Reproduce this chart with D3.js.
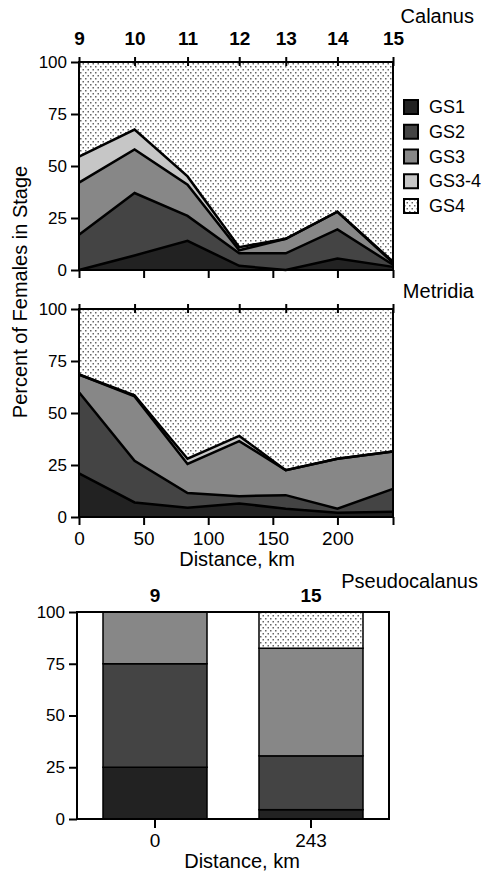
<!DOCTYPE html>
<meta charset="utf-8">
<script src="https://d3js.org/d3.v7.min.js"></script>
<style>
  body { margin: 0; background: #fff; }
  text { font-family: "Liberation Sans", Arial, sans-serif; }
</style>
<div id="chart"></div>
<script>

// stations along the transect and their distance (km)
var stations = ["9", "10", "11", "12", "13", "14", "15"];
var distance = [0, 43, 84, 124, 160, 200, 243];
var stages = ["GS1", "GS2", "GS3", "GS3-4", "GS4"];
var yTicks = [0, 25, 50, 75, 100];
var distTicks = [0, 50, 100, 150, 200, 243];

// Calanus, percent of females in each stage
var calGS1  = [0, 7, 14, 2, 0, 5.5, 1.5];
var calGS2  = [17, 30, 12, 6, 8, 14, 1];
var calGS3  = [25, 21, 15, 1.5, 7, 8.5, 1];
var calGS34 = [12.5, 9.5, 4, 1.5, 0, 0, 0.5];
var calGS4  = [45.5, 32.5, 55, 89, 85, 72, 96];

// Metridia
var metGS1  = [21, 7, 4.5, 6.5, 4, 2, 2.5];
var metGS2  = [39, 20, 7, 3.5, 6.5, 2, 11];
var metGS3  = [8.5, 31, 14, 26.5, 12, 24, 18];
var metGS34 = [0, 0.5, 2.5, 2.5, 0, 0, 0];
var metGS4  = [31.5, 41.5, 72, 61, 77.5, 72, 68.5];

// Pseudocalanus (only end stations)
var pseStations = ["9", "15"];
var pseDistance = ["0", "243"];
var pseGS1  = [25, 4.5];
var pseGS2  = [50, 26];
var pseGS3  = [25, 52];
var pseGS34 = [0, 0];
var pseGS4  = [0, 17.5];

var svg = d3.select("#chart").append("svg")
    .attr("width", 484)
    .attr("height", 873);

// dotted fill for GS4
var pat = svg.append("defs").append("pattern")
    .attr("id", "dots")
    .attr("patternUnits", "userSpaceOnUse")
    .attr("width", 5)
    .attr("height", 6);
pat.append("rect").attr("width", 5).attr("height", 6).attr("fill", "#fff");
pat.append("rect").attr("x", 0).attr("y", 0).attr("width", 1.5).attr("height", 1.5).attr("fill", "#666");
pat.append("rect").attr("x", 2.5).attr("y", 3).attr("width", 1.5).attr("height", 1.5).attr("fill", "#666");

var colors = {"GS1": "#222", "GS2": "#444", "GS3": "#878787", "GS3-4": "#c6c6c6", "GS4": "url(#dots)"};

function makeRows(keys, cols, series) {
  return keys.map(function(k, i) {
    var r = {key: k};
    stages.forEach(function(s, j) { r[s] = series[j][i]; });
    return r;
  });
}

function styleAxis(g, size, bold) {
  g.selectAll("text")
    .style("font-size", size + "px")
    .style("font-weight", bold ? "bold" : "normal")
    .attr("fill", "#000");
  g.selectAll("line").attr("stroke", "#000").attr("stroke-width", 2);
  g.select(".domain").remove();
}

var x = d3.scaleLinear().domain([0, 243]).range([79, 393]);

function areaPanel(series, yBottom, yTop, stationLabels, distLabels) {
  var y = d3.scaleLinear().domain([0, 100]).range([yBottom, yTop]);
  var rows = distance.map(function(d, i) {
    var r = {dist: d};
    stages.forEach(function(s, j) { r[s] = series[j][i]; });
    return r;
  });
  var stacked = d3.stack().keys(stages)(rows);

  var area = d3.area()
    .x(function(d) { return x(d.data.dist); })
    .y0(function(d) { return y(d[0]); })
    .y1(function(d) { return y(d[1]); });
  var line = d3.line()
    .x(function(d) { return x(d.data.dist); })
    .y(function(d) { return y(d[1]); });

  var g = svg.append("g");
  g.selectAll(".layer")
    .data(stacked)
    .enter().append("path")
      .attr("d", area)
      .attr("fill", function(d) { return colors[d.key]; });
  g.selectAll(".edge")
    .data(stacked.slice(0, 4))
    .enter().append("path")
      .attr("d", line)
      .attr("fill", "none")
      .attr("stroke", "#000")
      .attr("stroke-width", 2.5)
      .attr("stroke-linejoin", "miter");

  // frame
  g.append("rect")
    .attr("x", x(0)).attr("y", yTop)
    .attr("width", x(243) - x(0)).attr("height", yBottom - yTop)
    .attr("fill", "none").attr("stroke", "#000").attr("stroke-width", 2);

  var left = g.append("g")
    .attr("transform", "translate(" + x(0) + ",0)")
    .call(d3.axisLeft(y).tickValues(yTicks).tickSize(8).tickPadding(4).tickSizeOuter(0));
  styleAxis(left, 17, false);

  var top = g.append("g")
    .attr("transform", "translate(0," + yTop + ")")
    .call(d3.axisTop(x).tickValues(distance).tickSize(5).tickPadding(12).tickSizeOuter(0)
      .tickFormat(function(d, i) { return stationLabels ? stations[i] : ""; }));
  styleAxis(top, 19, true);
  top.selectAll("line").attr("y1", 4);

  var bottom = g.append("g")
    .attr("transform", "translate(0," + yBottom + ")")
    .call(d3.axisBottom(x).tickValues(distTicks).tickSize(8).tickPadding(7).tickSizeOuter(0)
      .tickFormat(function(d) { return distLabels && d !== 243 ? d : ""; }));
  styleAxis(bottom, 19, false);
}

areaPanel([calGS1, calGS2, calGS3, calGS34, calGS4], 270, 62, true, false);
areaPanel([metGS1, metGS2, metGS3, metGS34, metGS4], 517, 309, false, true);

// Pseudocalanus bars
var yb = d3.scaleLinear().domain([0, 100]).range([819, 612]);
var xb = d3.scaleBand().domain(pseDistance).range([77, 389]).paddingInner(1 / 3).paddingOuter(1 / 6);
var pseRows = pseDistance.map(function(d, i) {
  var r = {dist: d};
  var series = [pseGS1, pseGS2, pseGS3, pseGS34, pseGS4];
  stages.forEach(function(s, j) { r[s] = series[j][i]; });
  return r;
});
var pseStack = d3.stack().keys(stages)(pseRows);

var gb = svg.append("g");
gb.selectAll(".layer")
  .data(pseStack)
  .enter().append("g")
    .attr("fill", function(d) { return colors[d.key]; })
  .selectAll("rect")
  .data(function(d) { return d.filter(function(v) { return v[1] > v[0]; }); })
  .enter().append("rect")
    .attr("x", function(d) { return xb(d.data.dist); })
    .attr("y", function(d) { return yb(d[1]); })
    .attr("width", xb.bandwidth())
    .attr("height", function(d) { return yb(d[0]) - yb(d[1]); })
    .attr("stroke", "#000")
    .attr("stroke-width", 1.5);

gb.append("rect")
  .attr("x", 77).attr("y", 612)
  .attr("width", 389 - 77).attr("height", 819 - 612)
  .attr("fill", "none").attr("stroke", "#000").attr("stroke-width", 2);

var bl = gb.append("g")
  .attr("transform", "translate(77,0)")
  .call(d3.axisLeft(yb).tickValues(yTicks).tickSize(8).tickPadding(4).tickSizeOuter(0));
styleAxis(bl, 17, false);

var bt = gb.append("g")
  .attr("transform", "translate(0,612)")
  .call(d3.axisTop(xb).tickSize(0).tickPadding(10).tickSizeOuter(0)
    .tickFormat(function(d, i) { return pseStations[i]; }));
styleAxis(bt, 19, true);

var bb = gb.append("g")
  .attr("transform", "translate(0,819)")
  .call(d3.axisBottom(xb).tickSize(9).tickPadding(6).tickSizeOuter(0));
styleAxis(bb, 19, false);

// titles
svg.append("text").attr("x", 474).attr("y", 23).attr("text-anchor", "end")
  .style("font-size", "20px").text("Calanus");
svg.append("text").attr("x", 474).attr("y", 298).attr("text-anchor", "end")
  .style("font-size", "20px").text("Metridia");
svg.append("text").attr("x", 478).attr("y", 588).attr("text-anchor", "end")
  .style("font-size", "20px").text("Pseudocalanus");

svg.append("text").attr("x", 237).attr("y", 566).attr("text-anchor", "middle")
  .style("font-size", "20px").text("Distance, km");
svg.append("text").attr("x", 242).attr("y", 868).attr("text-anchor", "middle")
  .style("font-size", "20px").text("Distance, km");

svg.append("text")
  .attr("transform", "translate(27,292) rotate(-90)")
  .attr("text-anchor", "middle")
  .style("font-size", "20px")
  .text("Percent of Females in Stage");

// legend
var legend = svg.append("g").selectAll("g")
  .data(stages)
  .enter().append("g")
    .attr("transform", function(d, i) { return "translate(404," + (100 + i * 24.75) + ")"; });
legend.append("rect")
  .attr("width", 14).attr("height", 14)
  .attr("fill", function(d) { return colors[d]; })
  .attr("stroke", "#000").attr("stroke-width", 2);
legend.append("text")
  .attr("x", 25).attr("y", 13)
  .style("font-size", "18px")
  .text(function(d) { return d; });

</script>
